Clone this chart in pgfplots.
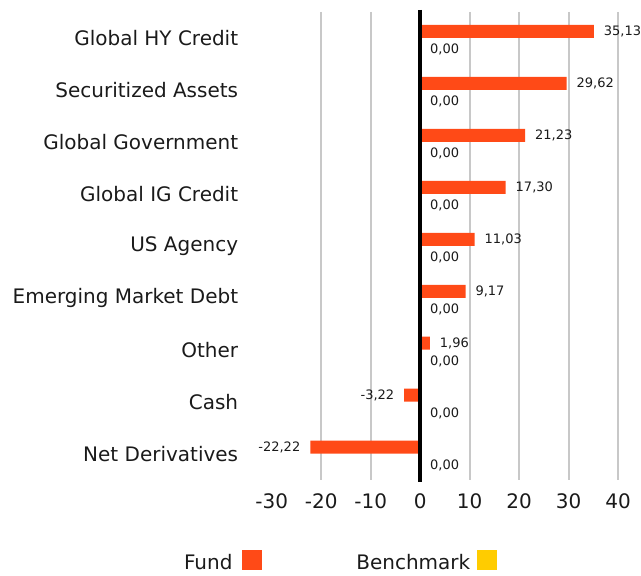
\documentclass[border=0pt]{standalone}
\usepackage{fontspec}
\setmainfont{DejaVu Sans}
\usepackage{pgfplots}
\pgfplotsset{compat=1.18}
\definecolor{fundc}{HTML}{FF4A17}
\definecolor{benchc}{HTML}{FFCC00}
\definecolor{gridc}{HTML}{C8C8C8}
\definecolor{txt}{HTML}{1A1A1A}
\begin{document}
\begin{tikzpicture}
\begin{axis}[
  scale only axis,
  width=346.5pt, height=468pt,
  xmin=-30, xmax=40,
  ymin=-0.5, ymax=8.5,
  y dir=reverse,
  xbar,
  bar width=0.25,
  clip=false,
  axis line style={draw=none},
  major tick length=0pt,
  xtick={-30,-20,...,40},
  extra x ticks={-20,-10,10,20,30,40},
  extra x tick labels={},
  extra x tick style={grid=major, major grid style={gridc, line width=2pt}},
  ytick={0,...,8},
  yticklabels={Global HY Credit,Securitized Assets,Global Government,Global IG Credit,US Agency,Emerging Market Debt,Other,Cash,Net Derivatives},
  /pgf/number format/assume math mode=true,
  ticklabel style={font=\fontsize{20}{24}\selectfont, text=txt, inner sep=0pt},
  yticklabel style={anchor=east, xshift=-33.5pt},
  xticklabel style={anchor=north, yshift=-14pt},
  legend columns=2,
  legend plot pos=right,
  legend style={draw=none, fill=none, at={(0.196,-0.175)}, anchor=center,
    font=\fontsize{20}{24}\selectfont, text=txt,
    /tikz/every even column/.append style={column sep=92pt},
    cells={anchor=east}},
  legend image code/.code={\fill[#1] (0pt,-8pt) rectangle (20pt,12pt);},
  nodes near coords={\pgfmathprintnumber[fixed,fixed zerofill,precision=2,use comma,assume math mode=true]{\pgfplotspointmeta}},
  nodes near coords style={font=\fontsize{13}{15}\selectfont, text=txt, inner sep=0pt, outer sep=10pt},
]
\addplot[fill=fundc, draw=none, bar shift=-0.125] coordinates {
  (35.13,0) (29.62,1) (21.23,2) (17.30,3) (11.03,4) (9.17,5) (1.96,6) (-3.22,7) (-22.22,8)};
\addlegendentry{Fund\kern8pt}
\addplot[fill=benchc, draw=none, bar shift=0.125, nodes near coords style={yshift=-5pt}] coordinates {
  (0,0) (0,1) (0,2) (0,3) (0,4) (0,5) (0,6) (0,7) (0,8)};
\addlegendentry{Benchmark\kern5pt}
\draw[black, line width=4pt] (axis cs:0,-0.54) -- (axis cs:0,8.54);
\end{axis}
\pgfresetboundingbox
\path (current axis.south west) ++(-272pt,-96pt) coordinate (bl);
\path ([shift={(23pt,12pt)}]current axis.north east) coordinate (tr);
\path (bl) rectangle (tr);
\end{tikzpicture}
\end{document}
